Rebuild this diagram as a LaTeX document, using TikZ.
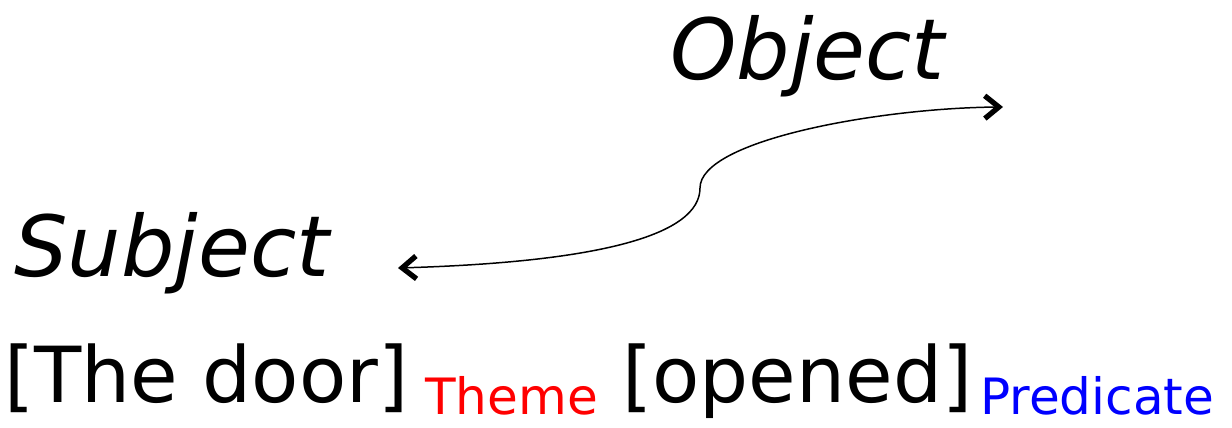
\documentclass[tikz,border=0pt]{standalone}
\usepackage{fontspec}
\setmainfont{DejaVu Sans}
\usepackage{xcolor}
\definecolor{rolered}{RGB}{255,0,0}
\definecolor{roleblue}{RGB}{0,0,255}
\usetikzlibrary{arrows.meta}

\begin{document}
\begin{tikzpicture}[x=0.02cm, y=-0.02cm,
  gram/.style={anchor=base west, inner sep=0pt, font=\fontsize{48}{56}\itshape\selectfont},
  phrase/.style={anchor=base west, inner sep=0pt, font=\fontsize{44}{52}\selectfont},
  role/.style={anchor=base west, inner sep=0pt, font=\fontsize{28.5}{32}\selectfont},
  barb/.tip={Straight Barb[line width=3pt, length=8pt, width=13pt]},
  link/.style={line width=0.85pt, barb-barb}]
  \useasboundingbox (0,0) rectangle (1232,428);

  % Grammatical functions
  \node[gram] (subj) at (14,277) {Subject};
  \node[gram] (obj) at (670,80) {Object};

  % Bracketed sentence with thematic roles
  \node[phrase] (door) at (4,403) {[The door]};
  \node[role, text=rolered] (theme) at (425,415) {Theme};
  \node[phrase] (opened) at (622,403) {[opened]};
  \node[role, text=roleblue] (pred) at (980,415) {Predicate};

  % Swapped mapping between subject and object
  \coordinate (subjtip) at (398,268);
  \coordinate (bend) at (700,188);
  \coordinate (objtip) at (1003,107);
  \draw[link] (subjtip) .. controls (600,262) and (700,235) .. (bend)
    .. controls (700,140) and (880,108) .. (objtip);
\end{tikzpicture}
\end{document}
